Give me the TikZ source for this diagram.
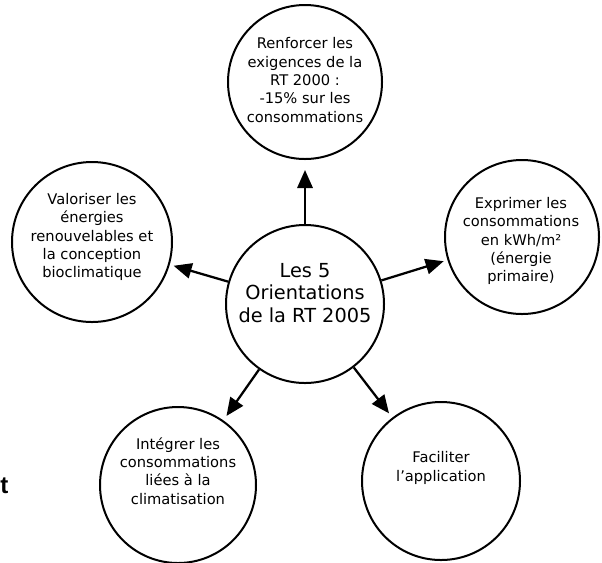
\documentclass[tikz,border=0pt]{standalone}
\usepackage{fontspec}
\setmainfont{DejaVu Sans}
\newfontfamily\tfont{Liberation Sans}
\usetikzlibrary{arrows.meta}
\begin{document}
\begin{tikzpicture}[x=0.75pt,y=-0.75pt,
  circ/.style={draw, circle, line width=1.5pt, inner sep=0pt, minimum size=#1},
  lbl/.style={align=center, font=\fontsize{11}{13.7}\selectfont},
  mainlbl/.style={align=center, font=\fontsize{14.5}{17}\selectfont},
  arr/.style={line width=1.7pt, -{Triangle[length=13.5pt,width=11.5pt]}, shorten >=3pt}]
\useasboundingbox (0,0) rectangle (602,562);
\node[circ=115.5pt] (top) at (305,82) {};
\node[circ=120pt] (left) at (92,242) {};
\node[circ=115.5pt] (right) at (522,237) {};
\node[circ=118.5pt] (ctr) at (305,304) {};
\node[circ=117pt] (bl) at (178,485) {};
\node[circ=118.5pt] (br) at (441,481) {};

\node[lbl] (ttop) at (305,80) {Renforcer les\\exigences de la\\RT 2000 :\\-15\% sur les\\consommations};
\node[lbl] (tleft) at (92,237) {Valoriser les\\énergies\\renouvelables et\\la conception\\bioclimatique};
\node[lbl] (tright) at (521,241) {Exprimer les\\consommations\\en kWh/m²\\(énergie\\primaire)};
\node[mainlbl] (tctr) at (305,293) {Les 5\\Orientations\\de la RT 2005};
\node[lbl] (tbl) at (178,471) {Intégrer les\\consommations\\liées à la\\climatisation};
\node[lbl] (tbr) at (441,468) {Faciliter\\l{\char"0027}application};
\node[anchor=base west, inner sep=0pt, font=\tfont\bfseries\fontsize{18}{21}\selectfont] (tt) at (0,493) {t};

\draw[arr, shorten >=7.5pt] (ctr) -- (top);
\draw[arr] (ctr) -- (left);
\draw[arr] (ctr) -- (right);
\draw[arr, shorten >=4pt] (ctr) -- (bl);
\draw[arr, shorten >=4pt] (ctr) -- (br);
\end{tikzpicture}
\end{document}
